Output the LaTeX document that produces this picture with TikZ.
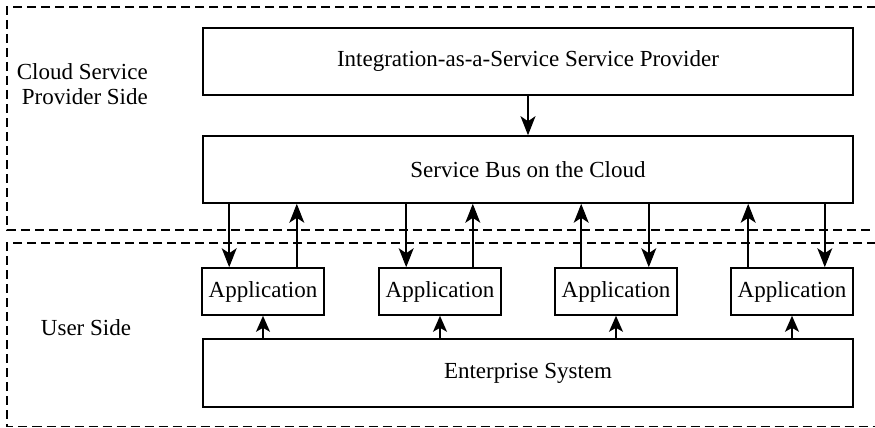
\documentclass[tikz,border=0pt]{standalone}
\usepackage{fontspec}
\setmainfont{Liberation Serif}
\usetikzlibrary{arrows.meta,calc}
\begin{document}
\begin{tikzpicture}[x=1pt,y=-1pt,
  every node/.style={font=\fontsize{23}{25}\selectfont},
  block/.style={draw,line width=1.6pt,minimum width=650pt,minimum height=67pt,inner sep=0pt},
  appbox/.style={draw,line width=1.6pt,minimum width=122pt,minimum height=47pt,inner sep=0pt},
  zone/.style={draw,dashed,dash pattern=on 9pt off 5pt,line width=1.3pt},
  arr/.style={line width=1.5pt,-{Stealth[length=19pt,width=15pt,inset=5pt]}},
  shortarr/.style={line width=1.5pt,-{Stealth[length=16pt,width=14pt,inset=4pt]}}]
\clip (0,0) rectangle (875,428);

% the two zones, open on the right
\draw[zone] (890,7) -- (7,7) -- (7,230) -- (890,230);
\draw[zone] (890,243) -- (7,243) -- (7,426.5) -- (890,426.5);

\node[align=right,anchor=east,inner sep=0pt] (cloudlbl) at (148,84.5) {Cloud Service\\Provider Side};
\node (userlbl) at (86,328) {User Side};

% main blocks
\node[block] (iaas) at (528,61.5) {Integration-as-a-Service Service Provider};
\node[block] (bus) at (528,169.5) {Service Bus on the Cloud};
\node[block,minimum height=68pt] (ent) at (528,373) {Enterprise System};

% applications
\node[appbox] (app1) at (263,291.5) {Application};
\node[appbox] (app2) at (440,291.5) {Application};
\node[appbox] (app3) at (616,291.5) {Application};
\node[appbox] (app4) at (792,291.5) {Application};

\draw[arr] (iaas.south) -- (bus.north);

% bus <-> applications
\draw[arr] ([xshift=28pt]app1.north west |- bus.south) -- ([xshift=28pt]app1.north west);
\draw[arr] ([xshift=-28pt]app1.north east) -- ([xshift=-28pt]app1.north east |- bus.south);
\draw[arr] ([xshift=28pt]app2.north west |- bus.south) -- ([xshift=28pt]app2.north west);
\draw[arr] ([xshift=-29pt]app2.north east) -- ([xshift=-29pt]app2.north east |- bus.south);
\draw[arr] ([xshift=27pt]app3.north west) -- ([xshift=27pt]app3.north west |- bus.south);
\draw[arr] ([xshift=-29pt]app3.north east |- bus.south) -- ([xshift=-29pt]app3.north east);
\draw[arr] ([xshift=18pt]app4.north west) -- ([xshift=18pt]app4.north west |- bus.south);
\draw[arr] ([xshift=-29pt]app4.north east |- bus.south) -- ([xshift=-29pt]app4.north east);

% enterprise system feeds each application
\foreach \a in {app1,app2,app3,app4}
  \draw[shortarr] (\a.south |- ent.north) -- (\a.south);
\end{tikzpicture}
\end{document}
